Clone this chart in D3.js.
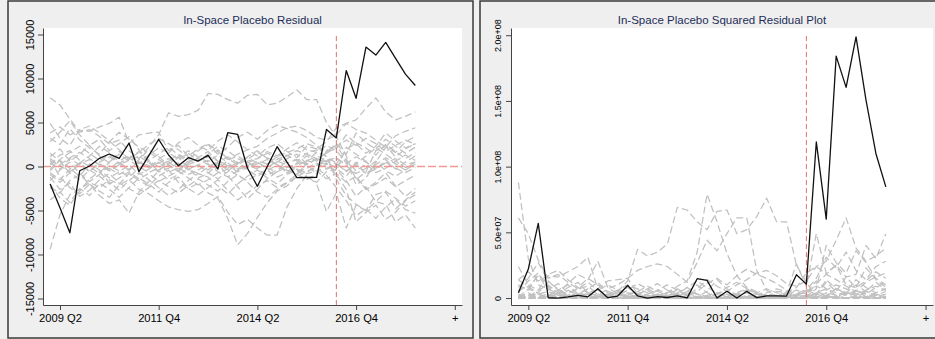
<!DOCTYPE html>
<html>
<head>
<meta charset="utf-8">
<script src="https://cdn.jsdelivr.net/npm/d3@7"></script>
<style>
  html, body { margin: 0; padding: 0; background: #efefef; }
  svg { display: block; font-family: "Liberation Sans", Arial, Helvetica, sans-serif; }
</style>
</head>
<body>
<svg id="chart" width="935" height="339"></svg>
<script>
// quarters covered by every series
const quarters = [
  '2009q1','2009q2','2009q3','2009q4','2010q1','2010q2','2010q3','2010q4',
  '2011q1','2011q2','2011q3','2011q4','2012q1','2012q2','2012q3','2012q4',
  '2013q1','2013q2','2013q3','2013q4','2014q1','2014q2','2014q3','2014q4',
  '2015q1','2015q2','2015q3','2015q4','2016q1','2016q2','2016q3','2016q4',
  '2017q1','2017q2','2017q3','2017q4','2018q1','2018q2',
];
const treatQuarter = '2016q2';

const xTickQuarters = ['2009q2', '2011q4', '2014q2', '2016q4', '2019q2'];
const xTickLabels = ['2009 Q2', '2011 Q4', '2014 Q2', '2016 Q4', '+'];

const residTicks = [-15000, -10000, -5000, 0, 5000, 10000, 15000];
const residTickLabels = ['-15000', '-10000', '-5000', '0', '5000', '10000', '15000'];
// squared residuals, in millions
const sqTicks = [0, 50, 100, 150, 200];
const sqTickLabels = ['0', '5.0e+07', '1.0e+08', '1.5e+08', '2.0e+08'];

// treated unit
const residTreated = [-1990,-4700,-7540,-480,60,930,1420,930,2650,-590,1230,3080,1310,90,1000,620,1270,-280,3840,3660,-200,-2250,0,2250,500,-1270,-1250,-1230,4210,3250,10900,7750,13570,12660,14100,12280,10490,9200];
const sqTreated = [4.0,22.1,56.8,0.2,0.0,0.9,2.0,0.9,7.0,0.3,1.5,9.5,1.7,0.0,1.0,0.4,1.6,0.1,14.7,13.4,0.0,5.1,0.0,5.1,0.3,1.6,1.6,1.5,17.7,10.6,118.8,60.1,184.1,160.3,198.8,150.8,110.0,84.6];

// placebo units (residuals)
const residPlacebo = [
  [7800,7000,5400,3900,4200,3400,2600,3000,1800,900,2200,3600,6100,5700,5900,6400,8300,8200,7600,7200,8100,8200,7000,7200,7900,8700,7600,7600,5000,3400,1200,-1500,-600,1800,2400,1100,2000,2600],
  [3800,4500,3600,4100,4000,4500,4900,5600,2600,3600,3800,3900,1800,2400,1200,2000,2600,1700,800,1400,1900,2300,3200,3800,4400,4600,4100,3300,3000,3600,4900,5300,6600,7800,6200,5300,5700,6200],
  [-9400,-5500,-3200,-2600,-1800,-2400,-1500,-2000,-800,-1600,-2200,-1100,-400,-1800,-2500,-1900,-3000,-3600,-5900,-8900,-7600,-5800,-4100,-2800,-2200,-1100,600,1600,1200,-1500,-3300,-4300,-5000,-3200,-2800,-3600,-4500,-3900],
  [-2400,-3000,-1600,-900,-2000,-2800,-3500,-2100,-1500,-2600,-3100,-3900,-4600,-4900,-5100,-4900,-4200,-3400,-5200,-6600,-6000,-7000,-7800,-7800,-4600,-2500,-1000,-2000,-5100,-3000,-7000,-4400,-5000,-4000,-4300,-6300,-5500,-7000],
  [800,-1200,-2400,-3100,-2000,-3300,-4200,-3800,-5300,-2900,-1700,-500,600,1100,-200,-1300,-800,400,-1100,-2300,-3700,-2600,-1400,-600,900,1400,300,-900,1800,2400,700,-2100,-1300,500,2200,1600,2800,3400],
  [3200,2500,4300,3000,2100,1400,2800,3900,3100,2200,1600,900,1500,2700,3300,2400,1800,2900,3600,2800,1900,1200,2100,2600,1700,1000,2300,2000,2800,4400,4900,4200,3800,3000,2200,3500,4000,4400],
  [1500,600,-800,400,1200,2300,1600,500,-400,800,1900,1100,200,-600,700,1800,2500,1400,2200,3300,3900,3100,4100,4700,4300,3900,3300,2400,1700,2000,3600,2600,1500,2300,3800,2900,2100,2600],
  [-1200,-2600,-1900,-3400,-2700,-1500,-800,-1900,-2500,-3200,-2400,-1600,-2300,-3000,-2200,-1400,-2100,-2800,-1700,-900,-1800,-2900,-3500,-2600,-1900,-1200,-500,-200,-1000,-2400,-3900,-5600,-4800,-5900,-4600,-3700,-4900,-5300],
  [400,-300,900,200,-600,500,1100,300,-400,600,-200,800,100,-500,400,900,200,-300,700,1200,500,-200,300,800,1300,600,1500,1900,1100,400,-600,500,-900,200,1000,300,-400,600],
  [-500,700,-200,-1100,300,-400,-1300,-600,200,-900,-300,500,-700,-100,-900,-400,300,-600,-1200,-500,200,-300,-1000,-400,100,-600,-200,400,-300,100,800,-500,300,-700,-200,600,-100,200],
  [1100,2000,600,1400,2400,1200,400,1700,1000,300,1300,2100,1600,800,1500,600,1100,1900,900,200,800,1600,1000,500,1200,1800,1400,900,600,300,1900,2700,2100,1300,2500,1700,900,1600],
  [-900,-1800,-700,-1500,-400,-1100,-2000,-1300,-600,-1400,-800,-1700,-1100,-500,-1300,-2100,-1500,-700,-300,-1000,-1600,-900,-400,-1200,-700,-300,-800,-500,-1400,-800,-1800,-1100,-2600,-2000,-1300,-2300,-1600,-1000],
  [2800,3900,5200,3600,2400,3100,1800,2600,3400,1900,700,1400,2200,1300,500,1000,1700,600,-500,300,1100,1800,900,200,-700,400,1200,600,1600,2600,1400,3800,2700,2000,3100,2300,1500,2200],
  [-3800,-2900,-4100,-2500,-3300,-1900,-2600,-3500,-2400,-1300,-2000,-2900,-1800,-1200,-2500,-3200,-2400,-1500,-2700,-3800,-3000,-2200,-1600,-2400,-1800,-900,-1500,-800,400,-900,-2600,-6300,-5200,-4400,-6000,-5200,-3900,-3200],
  [200,1300,1800,700,0,-800,500,1400,600,1200,400,-400,300,1000,1800,1100,500,1300,400,-300,600,900,1500,1000,400,800,200,900,500,-200,-1100,300,1200,2100,1400,600,1300,700],
  [-1600,-400,500,-800,-1700,-900,100,-500,-1200,-200,600,-600,-1500,-900,-300,200,-700,-1400,-600,300,-400,-1100,-500,200,-400,-900,300,800,200,-500,2200,1400,600,-400,800,-300,500,1200],
  [4900,3200,2400,4200,4600,3800,2900,1900,800,1600,2500,3200,2600,1900,1100,600,1400,2300,1800,900,400,900,1700,1200,2000,2700,1900,1600,2400,1800,400,-1300,-2600,-1800,-700,-2200,-3400,-2500],
  [-2000,-3600,-4400,-2800,-1400,-600,-1800,-2700,-1600,-700,-1500,-2400,-3300,-2600,-1600,-800,-1200,-2200,-3100,-2000,-1100,-400,-1300,-2000,-900,-400,-1200,-1800,-600,-300,-1600,-3400,-2300,-4000,-2900,-4800,-3800,-2900],
  [900,100,-600,300,800,200,-300,600,1300,500,-100,400,900,300,-400,200,700,100,-200,500,1000,400,-100,600,200,-300,-700,100,600,900,300,1100,500,-200,400,900,200,500],
  [-300,800,1600,2300,1500,700,1300,400,900,1700,600,0,700,1400,800,100,-400,500,1100,400,-200,600,300,1100,1600,2000,2600,2200,1500,2200,3000,2400,3200,2600,1700,2400,3000,2500],
  [-700,-1500,-300,400,-500,300,-200,-900,-300,500,100,-600,-200,400,-300,-800,-100,600,200,-400,100,500,-200,-600,-100,300,700,300,-200,300,-500,200,-800,-300,500,-200,-700,-100],
  [600,200,1000,1600,900,200,-500,200,700,0,-700,-100,500,-300,200,700,1200,600,100,-600,-100,300,800,200,-500,100,600,1200,700,1000,100,-800,-200,600,-500,-1100,-400,300],
];

// placebo units (squared residuals, millions)
const sqPlacebo = [
  [61,49,29,15,18,12,7,9,3,1,5,13,37,32,35,41,69,67,58,52,66,67,49,52,62,76,58,58,25,12,1,2,0,3,6,1,4,7],
  [14,20,13,17,16,20,24,31,7,13,14,15,3,6,1,4,7,3,1,2,4,5,10,14,19,21,17,11,9,13,24,28,44,61,38,28,32,38],
  [88,30,10,7,3,6,2,4,1,3,5,1,0,3,6,4,9,13,35,79,58,34,17,8,5,1,0,3,1,2,11,18,25,10,8,13,20,15],
  [6,9,3,1,4,8,12,4,2,7,10,15,21,24,26,24,18,12,27,44,36,49,61,61,21,6,1,4,26,9,49,19,25,16,18,40,30,49],
  [1,1,6,10,4,11,18,14,28,8,3,0,0,1,0,2,1,0,1,5,14,7,2,0,1,2,0,1,3,6,0,4,2,0,5,3,8,12],
  [10,6,18,9,4,2,8,15,10,5,3,1,2,7,11,6,3,8,13,8,4,1,4,7,3,1,5,4,8,19,24,18,14,9,5,12,16,19],
  [2,0,1,0,1,5,3,0,0,1,4,1,0,0,0,3,6,2,5,11,15,10,17,22,18,15,11,6,3,4,13,7,2,5,14,8,4,7],
  [1,7,4,12,7,2,1,4,6,10,6,3,5,9,5,2,4,8,3,1,3,8,12,7,4,1,0,0,1,6,15,31,23,35,21,14,24,28],
  [0,0,1,0,0,0,1,0,0,0,0,1,0,0,0,1,0,0,0,1,0,0,0,1,2,0,2,4,1,0,0,0,1,0,1,0,0,0],
  [0,0,0,1,0,0,2,0,0,1,0,0,0,0,1,0,0,0,1,0,0,0,1,0,0,0,0,0,0,0,1,0,0,0,0,0,0,0],
  [1,4,0,2,6,1,0,3,1,0,2,4,3,1,2,0,1,4,1,0,1,3,1,0,1,3,2,1,0,0,4,7,4,2,6,3,1,3],
  [1,3,0,2,0,1,4,2,0,2,1,3,1,0,2,4,2,0,0,1,3,1,0,1,0,0,1,0,2,1,3,1,7,4,2,5,3,1],
  [8,15,27,13,6,10,3,7,12,4,0,2,5,2,0,1,3,0,0,0,1,3,1,0,0,0,1,0,3,7,2,14,7,4,10,5,2,5],
  [14,8,17,6,11,4,7,12,6,2,4,8,3,1,6,10,6,2,7,14,9,5,3,6,3,1,2,1,0,1,7,40,27,19,36,27,15,10],
  [0,2,3,0,0,1,0,2,0,1,0,0,0,1,3,1,0,2,0,0,0,1,2,1,0,1,0,1,0,0,1,0,1,4,2,0,2,0],
  [3,0,0,1,3,1,0,0,1,0,0,0,2,1,0,0,0,2,0,0,0,1,0,0,0,1,0,1,0,0,5,2,0,0,1,0,0,1],
  [24,10,6,18,21,14,8,4,1,3,6,10,7,4,1,0,2,5,3,1,0,1,3,1,4,7,4,3,6,3,0,2,7,3,0,5,12,6],
  [4,13,19,8,2,0,3,7,3,0,2,6,11,7,3,1,1,5,10,4,1,0,2,4,1,0,1,3,0,0,3,12,5,16,8,23,14,8],
  [1,0,0,0,1,0,0,0,2,0,0,0,1,0,0,0,0,0,0,0,1,0,0,0,0,0,0,0,0,1,0,1,0,0,0,1,0,0],
  [0,1,3,5,2,0,2,0,1,3,0,0,0,2,1,0,0,0,1,0,0,0,0,1,3,4,7,5,2,5,9,6,10,7,3,6,9,6],
  [0,2,0,0,0,0,0,1,0,0,0,0,0,0,0,1,0,0,0,0,0,0,0,0,0,0,0,0,0,0,0,0,1,0,0,0,0,0],
  [0,0,1,3,1,0,0,0,0,0,0,0,0,0,0,0,1,0,0,0,0,0,1,0,0,0,0,1,0,1,0,1,0,0,0,1,0,0],
];

// quarter label -> running quarter number
const qNum = s => +s.slice(0, 4) * 4 + (+s.slice(5) - 1);
const q0 = qNum(quarters[0]);

const svg = d3.select('#chart');

function drawPanel(p) {
  const g = svg.append('g');

  // panel frame
  g.append('rect')
    .attr('x', p.frame[0]).attr('y', p.frame[1])
    .attr('width', p.frame[2]).attr('height', p.frame[3])
    .attr('fill', '#efefef')
    .attr('stroke', '#3a3a3a')
    .attr('stroke-width', 1.5);

  // plot region
  g.append('rect')
    .attr('x', p.left).attr('y', p.top)
    .attr('width', p.right - p.left).attr('height', p.bottom - p.top)
    .attr('fill', '#fff');

  const x = d3.scaleLinear().domain(p.xDomain).range([p.left, p.right]);
  const y = d3.scaleLinear().domain(p.yDomain).range([p.bottom, p.top]);

  const line = d3.line()
    .x((d, i) => x(i))
    .y(d => y(d));

  g.append('g')
    .selectAll('path')
    .data(p.placebo)
    .join('path')
    .attr('d', d => line(d))
    .attr('fill', 'none')
    .attr('stroke', '#c0c0c0')
    .attr('stroke-width', 1.25)
    .attr('stroke-dasharray', '7,3.5')
    .attr('stroke-linejoin', 'round');

  if (p.zeroLine) {
    g.append('line')
      .attr('x1', p.left).attr('x2', p.right)
      .attr('y1', y(0)).attr('y2', y(0))
      .attr('stroke', '#ef9a92')
      .attr('stroke-width', 1.6)
      .attr('stroke-dasharray', '8,3');
  }

  const xt = x(qNum(treatQuarter) - q0);
  g.append('line')
    .attr('x1', xt).attr('x2', xt)
    .attr('y1', p.top + 8).attr('y2', p.bottom)
    .attr('stroke', '#e5706a')
    .attr('stroke-width', 1)
    .attr('stroke-dasharray', '5,3');

  g.append('path')
    .attr('d', line(p.treated))
    .attr('fill', 'none')
    .attr('stroke', '#111')
    .attr('stroke-width', 1.3)
    .attr('stroke-linejoin', 'round');

  // axes
  const yAxis = g.append('g')
    .attr('transform', `translate(${p.left},0)`)
    .call(d3.axisLeft(y).tickValues(p.yTicks).tickFormat((d, i) => p.yTickLabels[i])
      .tickSize(5).tickSizeOuter(0));
  yAxis.selectAll('.tick text')
    .attr('transform', 'rotate(-90)')
    .attr('x', 0).attr('y', -13).attr('dy', '0.35em')
    .attr('text-anchor', 'middle')
    .attr('font-size', p.yFont)
    .attr('fill', '#000');

  const xAxis = g.append('g')
    .attr('transform', `translate(0,${p.bottom})`)
    .call(d3.axisBottom(x).tickValues(xTickQuarters.map(q => qNum(q) - q0))
      .tickFormat((d, i) => xTickLabels[i]).tickSize(5).tickSizeOuter(0).tickPadding(4));
  xAxis.selectAll('.tick text').attr('font-size', 11.2).attr('fill', '#000');

  [yAxis, xAxis].forEach(ax => {
    ax.select('.domain').attr('stroke', '#444');
    ax.selectAll('.tick line').attr('stroke', '#444');
  });

  g.append('text')
    .attr('x', (p.left + p.right) / 2)
    .attr('y', 23.5)
    .attr('text-anchor', 'middle')
    .attr('font-size', 11.5)
    .attr('fill', '#1d2d58')
    .text(p.title);
}

drawPanel({
  frame: [8, 1, 465, 337],
  left: 43, right: 462, top: 28, bottom: 305,
  xDomain: [-0.72, 41.73],
  yDomain: [-15740, 15740],
  yTicks: residTicks, yTickLabels: residTickLabels, yFont: 11,
  placebo: residPlacebo, treated: residTreated,
  zeroLine: true,
  title: 'In-Space Placebo Residual',
});

drawPanel({
  frame: [480, 1, 470, 337],
  left: 511, right: 933, top: 28, bottom: 305,
  xDomain: [-0.745, 41.75],
  yDomain: [-5.3, 205.5],
  yTicks: sqTicks, yTickLabels: sqTickLabels, yFont: 9,
  placebo: sqPlacebo, treated: sqTreated,
  zeroLine: false,
  title: 'In-Space Placebo Squared Residual Plot',
});
</script>
</body>
</html>
